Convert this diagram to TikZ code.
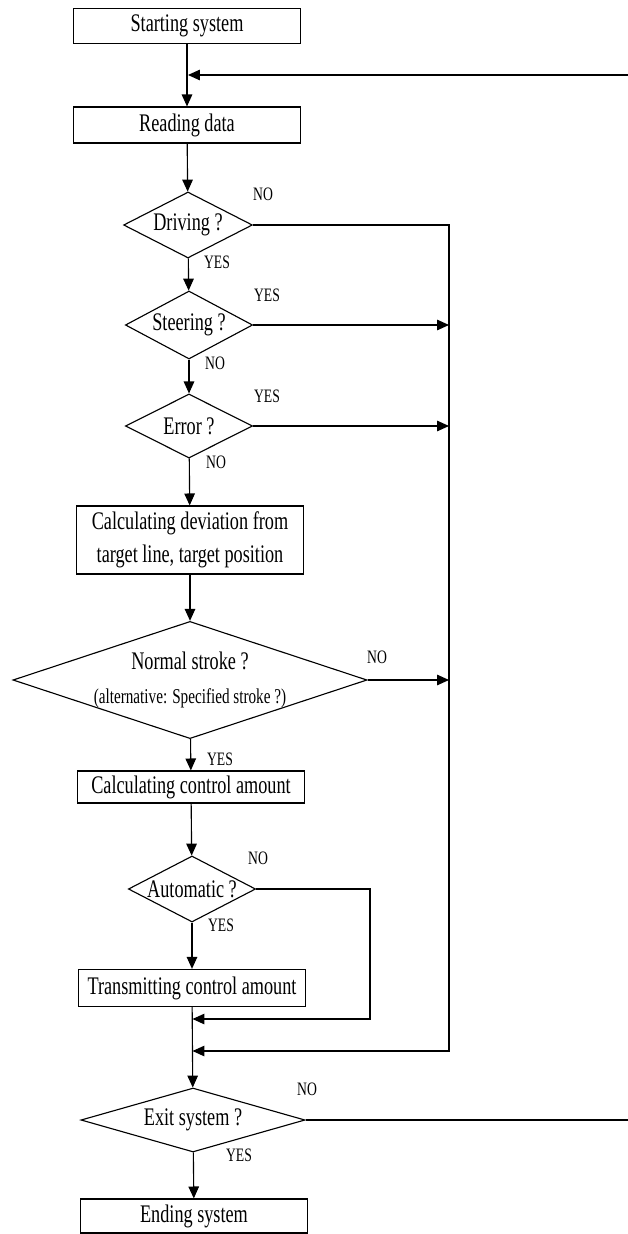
\documentclass[tikz,border=0pt]{standalone}
\usepackage{fontspec}
\setmainfont{Liberation Serif}[FakeStretch=0.72]
\usetikzlibrary{arrows.meta, shapes.geometric}

\newcommand{\qtext}[1]{\makebox[0pt]{#1}}
\tikzset{
	box/.style={draw, rectangle, inner sep=1pt, align=center, minimum width=5.66cm, font=\fontsize{18}{23.4}\selectfont},
	decide/.style={draw, diamond, inner sep=0pt, font=\fontsize{18}{23}\selectfont},
	lbl/.style={inner sep=0pt, font=\fontsize{13.5}{15}\selectfont},
	link/.style={line width=0.8pt},
	flow/.style={link, -{Triangle[length=8.5pt,width=7.5pt]}}
}

\begin{document}
\begin{tikzpicture}[x=0.025cm, y=-0.025cm, line width=0.8pt]
	\useasboundingbox (0,0) rectangle (627,1234);
	
	% 方框
	\node[box, minimum height=0.875cm] (start) at (187,26) {Starting system};
	\node[box, minimum height=0.9cm] (read) at (187,125) {Reading data};
	\node[box, minimum height=1.7cm] (calc) at (190,540) {Calculating deviation from\\target line, target position};
	\node[box, minimum height=0.8cm] (ctrl) at (191,787) {Calculating control amount};
	\node[box, minimum height=0.93cm] (trans) at (192,988) {Transmitting control amount};
	\node[box, minimum height=0.85cm] (end) at (194,1216) {Ending system};
	
	% 判断
	\node[decide, minimum width=3.22cm, minimum height=1.65cm] (drive) at (188,225) {\qtext{Driving ?}};
	\node[decide, minimum width=3.18cm, minimum height=1.7cm] (steer) at (189,325) {\qtext{Steering ?}};
	\node[decide, minimum width=3.18cm, minimum height=1.6cm] (err) at (189,426) {\qtext{Error ?}};
	\node[decide, minimum width=8.85cm, minimum height=2.93cm] (norm) at (190,680) {\qtext{\begin{tabular}{@{}c@{}}Normal stroke ?\\[1pt]{\fontsize{15}{17}\selectfont(alternative: Specified stroke ?)}\end{tabular}}};
	\node[decide, minimum width=3.18cm, minimum height=1.65cm] (auto) at (192,889) {\qtext{Automatic ?}};
	\node[decide, minimum width=5.6cm, minimum height=1.6cm] (exit) at (193,1120) {\qtext{Exit system ?}};
	
	% 汇合点
	\coordinate (j0) at (188,75);
	\coordinate (j1) at (192.5,1019);
	\coordinate (j2) at (192.5,1051);
	\coordinate (rbot) at (449,1051);
	\coordinate (acorner) at (370,1019);
	\coordinate (loop) at (660,75);
	
	% 主线
	\draw[flow] (start) -- (read);
	\draw[flow] (read) -- (drive);
	\draw[flow] (drive) -- (steer);
	\draw[flow] (steer) -- (err);
	\draw[flow] (err) -- (calc);
	\draw[flow] (calc) -- (norm);
	\draw[flow] (norm) -- (ctrl);
	\draw[flow] (ctrl) -- (auto);
	\draw[flow] (auto) -- (trans);
	\draw[flow] (trans) -- (exit);
	\draw[flow] (exit) -- (end);
	
	% 分支
	\draw[flow] (drive.east) -| (rbot) -- (j2);
	\draw[flow] (steer.east) -- (steer.east -| rbot);
	\draw[flow] (err.east) -- (err.east -| rbot);
	\draw[flow] (norm.east) -- (norm.east -| rbot);
	\draw[flow] (auto.east) -| (acorner) -- (j1);
	\draw[flow] (exit.east) -| (loop) -- (j0);
	
	% 标注
	\node[lbl] (n1) at (263,194) {NO};
	\node[lbl] (y1) at (217,262) {YES};
	\node[lbl] (y2) at (267,295) {YES};
	\node[lbl] (n2) at (215,363) {NO};
	\node[lbl] (y3) at (267,396) {YES};
	\node[lbl] (n3) at (216,462) {NO};
	\node[lbl] (n4) at (377,657) {NO};
	\node[lbl] (y4) at (220,759) {YES};
	\node[lbl] (n5) at (258,858) {NO};
	\node[lbl] (y5) at (221,925) {YES};
	\node[lbl] (n6) at (307,1089) {NO};
	\node[lbl] (y6) at (239,1155) {YES};
\end{tikzpicture}
\end{document}
